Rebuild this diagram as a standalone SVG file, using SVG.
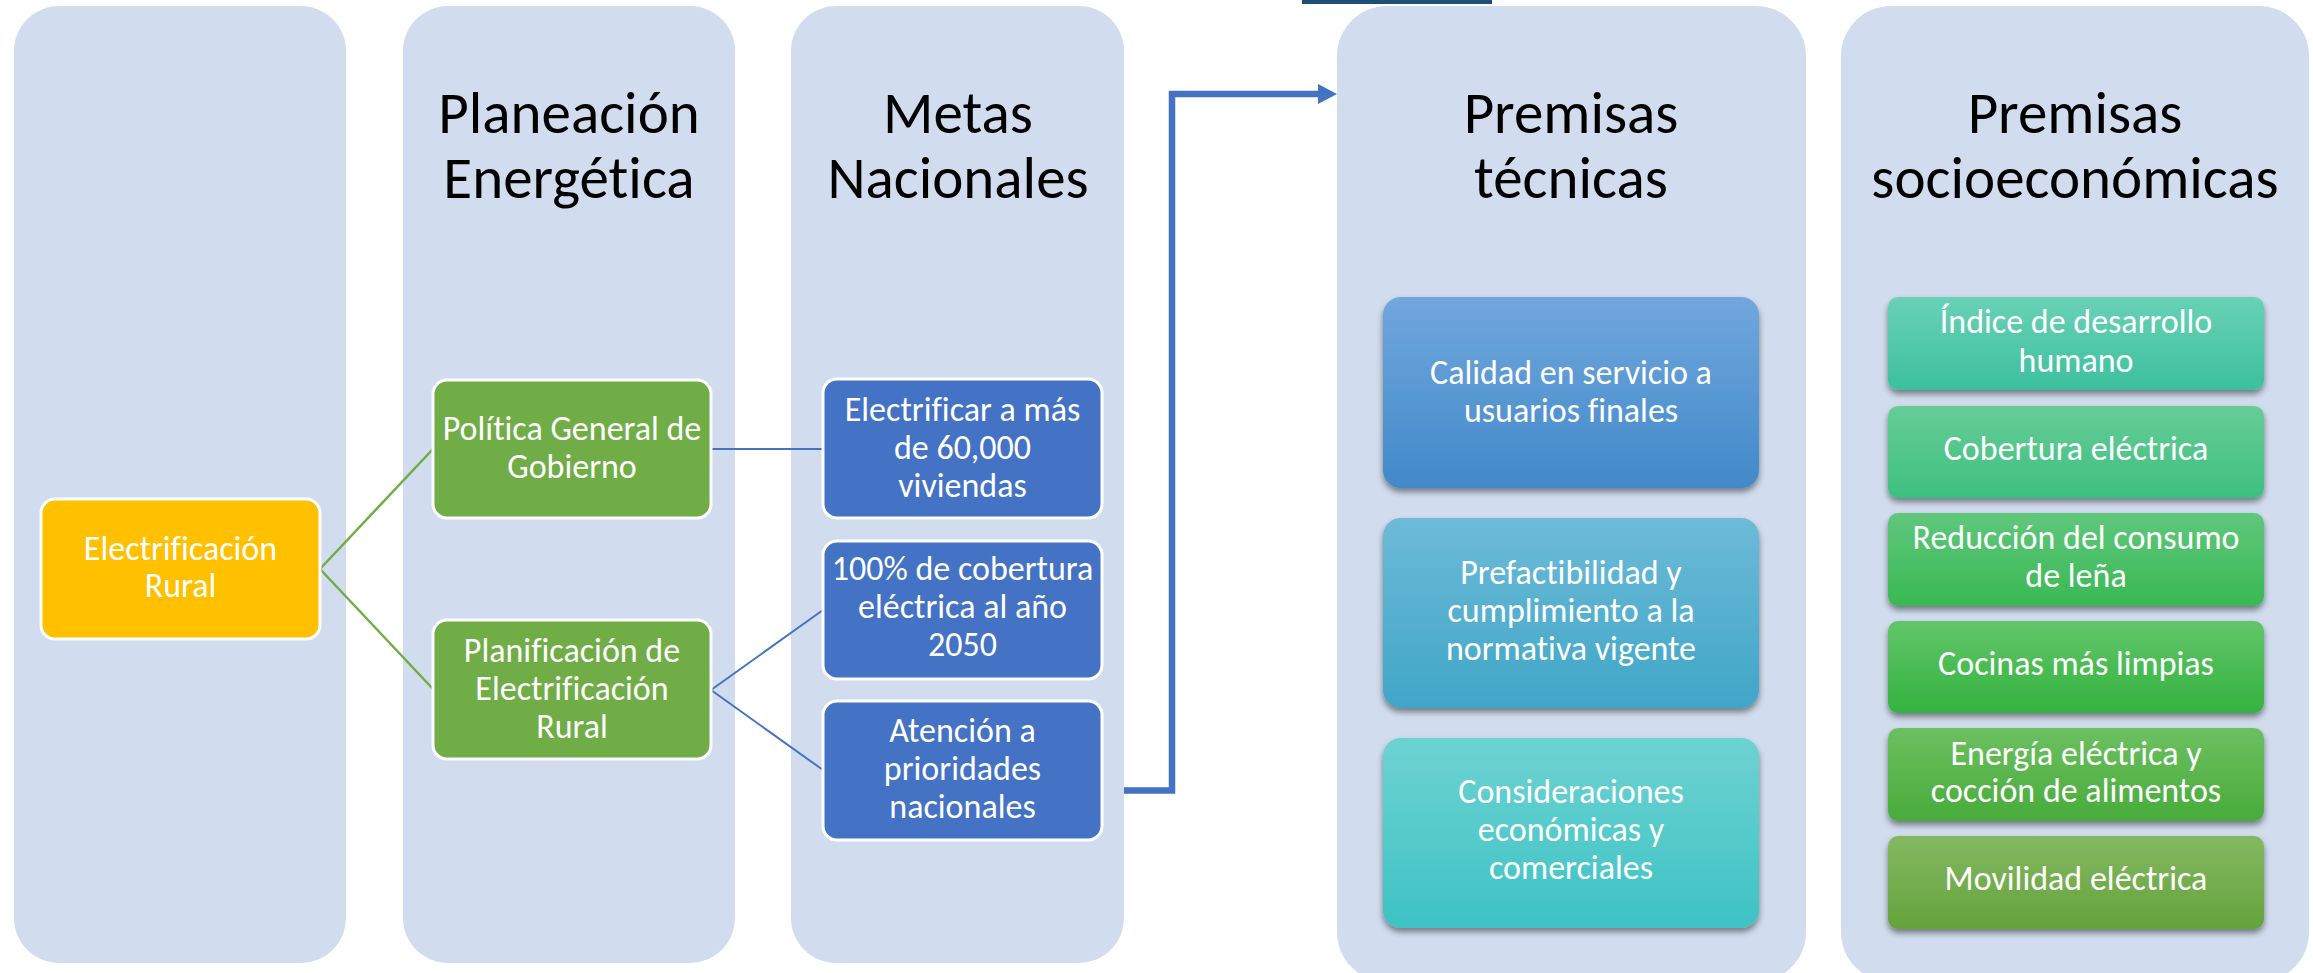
<svg xmlns="http://www.w3.org/2000/svg" width="2313" height="973" viewBox="0 0 2313 973">
<defs>
<style>
.col{fill:#D1DDEE;}
.title{font-family:Calibri,Carlito,Lato,"Liberation Sans",sans-serif;font-size:59px;fill:#000;text-anchor:middle;font-variant-ligatures:none;}
.t{font-family:Calibri,Carlito,Lato,"Liberation Sans",sans-serif;font-size:34px;fill:#fff;text-anchor:middle;font-variant-ligatures:none;}
.flat{stroke:#fff;stroke-width:3;}
.green{fill:#70AD47;}
.blue{fill:#4472C4;}
.orange{fill:#FFC000;}
.gl{stroke:#70AD47;stroke-width:2.5;fill:none;}
.bl{stroke:#4472C4;stroke-width:2;fill:none;}
.sh{filter:url(#shadow);}
</style>
<filter id="shadow" x="-10%" y="-10%" width="120%" height="130%">
<feDropShadow dx="0" dy="4" stdDeviation="3" flood-color="#000" flood-opacity="0.45"/>
</filter>
<marker id="arr" markerUnits="userSpaceOnUse" markerWidth="20" markerHeight="22" refX="0" refY="11" orient="auto">
<path d="M0,1 L19,11 L0,21 z" fill="#4472C4"/>
</marker>
<linearGradient id="gA" x1="0" y1="0" x2="0" y2="1"><stop offset="0" stop-color="#71A7DD"/><stop offset="1" stop-color="#4189C9"/></linearGradient>
<linearGradient id="gB" x1="0" y1="0" x2="0" y2="1"><stop offset="0" stop-color="#6DBAD8"/><stop offset="1" stop-color="#40A6C7"/></linearGradient>
<linearGradient id="gC" x1="0" y1="0" x2="0" y2="1"><stop offset="0" stop-color="#6DD3D1"/><stop offset="1" stop-color="#3EC2C5"/></linearGradient>
<linearGradient id="s1" x1="0" y1="0" x2="0" y2="1"><stop offset="0" stop-color="#69D1B6"/><stop offset="1" stop-color="#3CC09E"/></linearGradient>
<linearGradient id="s2" x1="0" y1="0" x2="0" y2="1"><stop offset="0" stop-color="#66CD98"/><stop offset="1" stop-color="#3EBF7F"/></linearGradient>
<linearGradient id="s3" x1="0" y1="0" x2="0" y2="1"><stop offset="0" stop-color="#60C77C"/><stop offset="1" stop-color="#38B953"/></linearGradient>
<linearGradient id="s4" x1="0" y1="0" x2="0" y2="1"><stop offset="0" stop-color="#62C56A"/><stop offset="1" stop-color="#34B33E"/></linearGradient>
<linearGradient id="s5" x1="0" y1="0" x2="0" y2="1"><stop offset="0" stop-color="#6CC060"/><stop offset="1" stop-color="#48AB3A"/></linearGradient>
<linearGradient id="s6" x1="0" y1="0" x2="0" y2="1"><stop offset="0" stop-color="#84B863"/><stop offset="1" stop-color="#64A33A"/></linearGradient>
</defs>

<rect x="1302" y="0" width="190" height="4" fill="#1F4E79"/>

<g id="col1"><rect class="col" x="14" y="6" width="332" height="957" rx="45"/></g>
<g id="col2"><rect class="col" x="403" y="6" width="332" height="957" rx="45"/>
<text class="title" x="569" y="133">Planeación</text><text class="title" x="569" y="198">Energética</text></g>
<g id="col3"><rect class="col" x="791" y="6" width="333" height="957" rx="45"/>
<text class="title" x="958" y="133">Metas</text><text class="title" x="958" y="198">Nacionales</text></g>
<g id="col4"><rect class="col" x="1337" y="6" width="469" height="976" rx="50"/>
<text class="title" x="1571" y="133">Premisas</text><text class="title" x="1571" y="198">técnicas</text></g>
<g id="col5"><rect class="col" x="1841" y="6" width="468" height="976" rx="50"/>
<text class="title" x="2075" y="133">Premisas</text><text class="title" x="2075" y="198">socioeconómicas</text></g>

<g id="connectors">
<path class="gl" d="M320,569 L433,449"/>
<path class="gl" d="M320,569 L433,689"/>
<path class="bl" d="M711,449 L823,449"/>
<path class="bl" d="M711,690 L823,610"/>
<path class="bl" d="M711,690 L823,770"/>
<path d="M1124,790.5 H1172 V94 H1318" fill="none" stroke="#4472C4" stroke-width="6.5" marker-end="url(#arr)"/>
</g>

<g id="n-electrificacion-rural"><rect class="flat orange" x="41" y="499" width="279" height="140" rx="14"/>
<text class="t" x="180.5" y="560">Electrificación</text><text class="t" x="180.5" y="597">Rural</text></g>
<g id="n-politica"><rect class="flat green" x="433" y="380" width="278" height="138" rx="14"/>
<text class="t" x="572" y="440">Política General de</text><text class="t" x="572" y="478">Gobierno</text></g>
<g id="n-planificacion"><rect class="flat green" x="433" y="620" width="278" height="139" rx="14"/>
<text class="t" x="572" y="662">Planificación de</text><text class="t" x="572" y="700">Electrificación</text><text class="t" x="572" y="738">Rural</text></g>
<g id="n-electrificar"><rect class="flat blue" x="823" y="379" width="279" height="139" rx="14"/>
<text class="t" x="962.5" y="421">Electrificar a más</text><text class="t" x="962.5" y="459">de 60,000</text><text class="t" x="962.5" y="497">viviendas</text></g>
<g id="n-cobertura100"><rect class="flat blue" x="823" y="541" width="279" height="138" rx="14"/>
<text class="t" x="962.5" y="580">100% de cobertura</text><text class="t" x="962.5" y="618">eléctrica al año</text><text class="t" x="962.5" y="656">2050</text></g>
<g id="n-atencion"><rect class="flat blue" x="823" y="701" width="279" height="139" rx="14"/>
<text class="t" x="962.5" y="742">Atención a</text><text class="t" x="962.5" y="780">prioridades</text><text class="t" x="962.5" y="818">nacionales</text></g>

<g id="n-calidad"><rect class="sh" fill="url(#gA)" x="1383" y="297" width="376" height="191" rx="18"/>
<text class="t" x="1571" y="384">Calidad en servicio a</text><text class="t" x="1571" y="422">usuarios finales</text></g>
<g id="n-prefactibilidad"><rect class="sh" fill="url(#gB)" x="1383" y="518" width="376" height="190" rx="18"/>
<text class="t" x="1571" y="584">Prefactibilidad y</text><text class="t" x="1571" y="622">cumplimiento a la</text><text class="t" x="1571" y="660">normativa vigente</text></g>
<g id="n-consideraciones"><rect class="sh" fill="url(#gC)" x="1383" y="738" width="376" height="190" rx="18"/>
<text class="t" x="1571" y="803">Consideraciones</text><text class="t" x="1571" y="841">económicas y</text><text class="t" x="1571" y="879">comerciales</text></g>

<g id="n-idh"><rect class="sh" fill="url(#s1)" x="1888" y="297" width="376" height="93" rx="10"/>
<text class="t" x="2076" y="333">Índice de desarrollo</text><text class="t" x="2076" y="372">humano</text></g>
<g id="n-cobertura"><rect class="sh" fill="url(#s2)" x="1888" y="406" width="376" height="92" rx="10"/>
<text class="t" x="2076" y="460">Cobertura eléctrica</text></g>
<g id="n-lena"><rect class="sh" fill="url(#s3)" x="1888" y="513" width="376" height="93" rx="10"/>
<text class="t" x="2076" y="549">Reducción del consumo</text><text class="t" x="2076" y="587">de leña</text></g>
<g id="n-cocinas"><rect class="sh" fill="url(#s4)" x="1888" y="621" width="376" height="92" rx="10"/>
<text class="t" x="2076" y="675">Cocinas más limpias</text></g>
<g id="n-energia"><rect class="sh" fill="url(#s5)" x="1888" y="728" width="376" height="93" rx="10"/>
<text class="t" x="2076" y="765">Energía eléctrica y</text><text class="t" x="2076" y="802">cocción de alimentos</text></g>
<g id="n-movilidad"><rect class="sh" fill="url(#s6)" x="1888" y="836" width="376" height="93" rx="10"/>
<text class="t" x="2076" y="890">Movilidad eléctrica</text></g>
</svg>
